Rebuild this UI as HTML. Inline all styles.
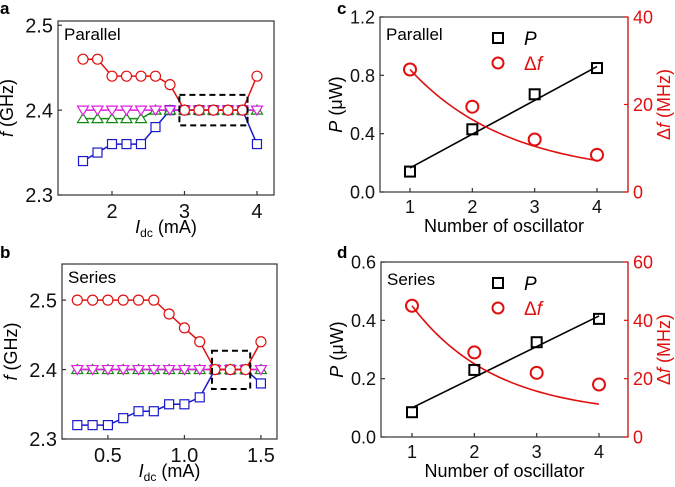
<!DOCTYPE html>
<html><head><meta charset="utf-8"><style>
body{margin:0;background:#fff;}
svg{display:block;font-family:"Liberation Sans",Arial,sans-serif;}
</style></head><body>
<svg id="fig" width="675" height="487" viewBox="0 0 675 487" xmlns="http://www.w3.org/2000/svg">
<text x="0" y="14" font-size="17" font-weight="bold">a</text>
<text x="0" y="258" font-size="17" font-weight="bold">b</text>
<text x="337" y="14" font-size="17" font-weight="bold">c</text>
<text x="337" y="258" font-size="17" font-weight="bold">d</text>
</svg>
<script>
// Panel a data (Parallel)
var aX = [1.6,1.8,2.0,2.2,2.4,2.6,2.8,3.0,3.2,3.4,3.6,3.8,4.0];
var aRed = [2.46,2.46,2.44,2.44,2.44,2.44,2.43,2.40,2.40,2.40,2.40,2.40,2.44];
var aBlue = [2.34,2.35,2.36,2.36,2.36,2.38,2.40,2.40,2.40,2.40,2.40,2.40,2.36];
var aGreen = [2.39,2.39,2.39,2.39,2.39,2.40,2.40,2.40,2.40,2.40,2.40,2.40,2.40];
var aMag = [2.40,2.40,2.40,2.40,2.40,2.40,2.40,2.40,2.40,2.40,2.40,2.40,2.40];
var aXTicks = [2,3,4];
var aYTicks = [2.3,2.4,2.5];
// Panel b data (Series)
var bX = [0.3,0.4,0.5,0.6,0.7,0.8,0.9,1.0,1.1,1.2,1.3,1.4,1.5];
var bRed = [2.50,2.50,2.50,2.50,2.50,2.50,2.48,2.46,2.44,2.40,2.40,2.40,2.44];
var bBlue = [2.32,2.32,2.32,2.33,2.34,2.34,2.35,2.35,2.36,2.40,2.40,2.40,2.38];
var bGreen = [2.40,2.40,2.40,2.40,2.40,2.40,2.40,2.40,2.40,2.40,2.40,2.40,2.40];
var bMag = [2.40,2.40,2.40,2.40,2.40,2.40,2.40,2.40,2.40,2.40,2.40,2.40,2.40];
var bXTicks = [0.5,1.0,1.5];
var bYTicks = [2.3,2.4,2.5];
// Panel c data
var nOsc = [1,2,3,4];
var cP = [0.14,0.43,0.67,0.85];
var cDf = [28,19.5,12,8.5];
var cPFit = [0.165,0.86];
var cDfFit = [24.5,0.63,3.5];
var cYTicks = [0.0,0.4,0.8,1.2];
var cY2Ticks = [0,20,40];
// Panel d data
var dP = [0.085,0.23,0.325,0.405];
var dDf = [45,29,22,18];
var dPFit = [0.10,0.415];
var dDfFit = [37.7,0.75,7.3];
var dYTicks = [0.0,0.2,0.4,0.6];
var dY2Ticks = [0,20,40,60];

var NS="http://www.w3.org/2000/svg";
var svgRoot=document.getElementById('fig');
function el(tag,attrs,parent,text){var e=document.createElementNS(NS,tag);for(var k in attrs)e.setAttribute(k,attrs[k]);if(text!==undefined)e.textContent=text;(parent||svgRoot).appendChild(e);return e;}
function lin(d0,d1,r0,r1){return function(v){return r0+(v-d0)/(d1-d0)*(r1-r0);};}

function frame(g,L,R,T,B){var r=el('rect',{x:L,y:T,width:R-L,height:B-T,fill:'none',stroke:'#333','stroke-width':1.2},g);

}

function drawXTicks(g,ticks,sx,B,fmt,fs){ticks.forEach(function(t){var x=sx(t);
var l=el('line',{x1:x,y1:B,x2:x,y2:B-4,stroke:'#333','stroke-width':1.2},g);


var tx=el('text',{x:x,y:B+fs+3,'font-size':fs,'text-anchor':'middle',fill:'#111'},g,fmt(t));

});}

function drawYTicks(g,ticks,sy,L,fmt,right,color,fs){ticks.forEach(function(t){var y=sy(t);
var l=el('line',{x1:L,y1:y,x2:right?L-4:L+4,y2:y,stroke:color||'#333','stroke-width':1.2},g);


var tx=el('text',{x:right?L+5:L-5,y:y+fs*0.36,'font-size':fs,'text-anchor':right?'start':'end',fill:color||'#111'},g,fmt(t));

});}

function marker(g,type,x,y,color){var m;
if(type==='circle')m=el('circle',{cx:x,cy:y,r:5,fill:'#fff',stroke:color,'stroke-width':1.2},g);
else if(type==='square')m=el('rect',{x:x-4.5,y:y-4.5,width:9,height:9,fill:'#fff',stroke:color,'stroke-width':1.2},g);
else if(type==='up')m=el('polygon',{points:x+','+(y-5)+' '+(x-5.5)+','+(y+4)+' '+(x+5.5)+','+(y+4),fill:'#fff',stroke:color,'stroke-width':1.2},g);
else m=el('polygon',{points:x+','+(y+5)+' '+(x-5.5)+','+(y-4)+' '+(x+5.5)+','+(y-4),fill:'#fff',stroke:color,'stroke-width':1.2},g);

}

function series(g,xs,ys,sx,sy,color,type,name){var pts=xs.map(function(x,i){return sx(x)+','+sy(ys[i]);}).join(' ');
var pl=el('polyline',{points:pts,fill:'none',stroke:color,'stroke-width':1.5},g);


xs.forEach(function(x,i){marker(g,type,sx(x),sy(ys[i]),color);});}

function freqPanel(o){var g=el('g',{});


var sx=lin(o.xd[0],o.xd[1],o.L,o.R), sy=lin(o.yd[0],o.yd[1],o.B,o.T);
series(g,o.x,o.blue,sx,sy,'#1a1acc','square','blue-series');
series(g,o.x,o.green,sx,sy,'#138a13','up','green-series');
series(g,o.x,o.mag,sx,sy,'#e020e0','down','magenta-series');
series(g,o.x,o.red,sx,sy,'#e01010','circle','red-series');
var bx=el('rect',{x:sx(o.box[0]),y:sy(o.box[3]),width:sx(o.box[1])-sx(o.box[0]),height:sy(o.box[2])-sy(o.box[3]),fill:'none',stroke:'#000','stroke-width':2,'stroke-dasharray':'6,4'},g);


frame(g,o.L,o.R,o.T,o.B);
drawXTicks(g,o.xt,sx,o.B,o.xf,20);
drawYTicks(g,o.yt,sy,o.L,function(v){return v.toFixed(1);},false,null,20);
var lt=el('text',{x:o.L+6,y:o.T+19,'font-size':17,fill:'#000'},g,o.title);


var yTitle=el('text',{transform:'translate('+(o.L-45)+','+((o.T+o.B)/2)+') rotate(-90)','font-size':18,'text-anchor':'middle'},g);


el('tspan',{'font-style':'italic'},yTitle,'f');el('tspan',{},yTitle,' (GHz)');
var xTitle=el('text',{x:(o.L+o.R)/2,y:o.B+38,'font-size':18,'text-anchor':'middle'},g);


el('tspan',{'font-style':'italic'},xTitle,'I');el('tspan',{'font-size':12,dy:4},xTitle,'dc');el('tspan',{dy:-4},xTitle,' (mA)');
}

function oscPanel(o){var g=el('g',{});


var sx=lin(1,4,o.x1,o.x4), sy=lin(0,o.ymax,o.B,o.T), sy2=lin(0,o.y2max,o.B,o.T);
var pl=el('line',{x1:sx(1),y1:sy(o.pfit[0]),x2:sx(4),y2:sy(o.pfit[1]),stroke:'#000','stroke-width':1.6},g);


var pts=[];for(var i=0;i<=60;i++){var x=1+3*i/60;pts.push(sx(x)+','+sy2(o.dfit[0]*Math.exp(-o.dfit[1]*(x-1))+o.dfit[2]));}
var fc=el('polyline',{points:pts.join(' '),fill:'none',stroke:'#e01010','stroke-width':1.6},g);


nOsc.forEach(function(n,i){var s=el('rect',{x:sx(n)-5,y:sy(o.p[i])-5,width:10,height:10,fill:'none',stroke:'#000','stroke-width':2},g);

});
nOsc.forEach(function(n,i){var c=el('circle',{cx:sx(n),cy:sy2(o.df[i]),r:6,fill:'none',stroke:'#e01010','stroke-width':2},g);

});
frame(g,o.L,o.R,o.T,o.B);
drawXTicks(g,nOsc,sx,o.B,function(v){return String(v);},18);
drawYTicks(g,o.yt,sy,o.L,function(v){return v.toFixed(1);},false,null,18);
var rl=el('line',{x1:o.R,y1:o.T,x2:o.R,y2:o.B,stroke:'#e01010','stroke-width':1.2},g);


drawYTicks(g,o.y2t,sy2,o.R,function(v){return String(v);},true,'#e01010',18);
var lt=el('text',{x:o.L+6,y:o.T+23,'font-size':17},g,o.title);


var lx=498,ly=o.T+21;
var ls=el('rect',{x:lx-5,y:ly-5,width:10,height:10,fill:'none',stroke:'#000','stroke-width':2},g);


var lp=el('text',{x:lx+26,y:ly+7,'font-size':19,'font-style':'italic'},g,'P');


var lc=el('circle',{cx:lx,cy:ly+25,r:5.5,fill:'none',stroke:'#e01010','stroke-width':2},g);


var ld=el('text',{x:lx+26,y:ly+32,'font-size':19,fill:'#e01010'},g);


el('tspan',{},ld,'Δ');el('tspan',{'font-style':'italic'},ld,'f');
var yTitle=el('text',{transform:'translate('+(o.L-38)+','+((o.T+o.B)/2)+') rotate(-90)','font-size':18,'text-anchor':'middle'},g);


el('tspan',{'font-style':'italic'},yTitle,'P');el('tspan',{},yTitle,' (μW)');
var y2=el('text',{transform:'translate('+(o.R+42)+','+((o.T+o.B)/2)+') rotate(-90)','font-size':18,'text-anchor':'middle',fill:'#e01010'},g);


el('tspan',{},y2,'Δ');el('tspan',{'font-style':'italic'},y2,'f');el('tspan',{},y2,' (MHz)');
var xTitle=el('text',{x:(o.L+o.R)/2,y:o.B+40,'font-size':18,'text-anchor':'middle'},g,'Number of oscillator');


}

freqPanel({name:'panel-a',L:58,R:274,T:21,B:195,xd:[1.255,4.235],yd:[2.3,2.505],x:aX,red:aRed,blue:aBlue,green:aGreen,mag:aMag,
 box:[2.93,3.87,2.382,2.418],xt:aXTicks,yt:aYTicks,xf:function(v){return String(v);},title:'Parallel'});
freqPanel({name:'panel-b',L:62,R:277,T:264,B:439,xd:[0.2,1.605],yd:[2.3,2.552],x:bX,red:bRed,blue:bBlue,green:bGreen,mag:bMag,
 box:[1.18,1.43,2.372,2.427],xt:bXTicks,yt:bYTicks,xf:function(v){return v.toFixed(1);},title:'Series'});
oscPanel({name:'panel-c',L:380,R:628,T:17,B:192,x1:410,x4:597,ymax:1.2,y2max:40,p:cP,df:cDf,pfit:cPFit,dfit:cDfFit,yt:cYTicks,y2t:cY2Ticks,title:'Parallel'});
oscPanel({name:'panel-d',L:381,R:628,T:262,B:437,x1:412,x4:599,ymax:0.6,y2max:60,p:dP,df:dDf,pfit:dPFit,dfit:dDfFit,yt:dYTicks,y2t:dY2Ticks,title:'Series'});
</script>
</body></html>
